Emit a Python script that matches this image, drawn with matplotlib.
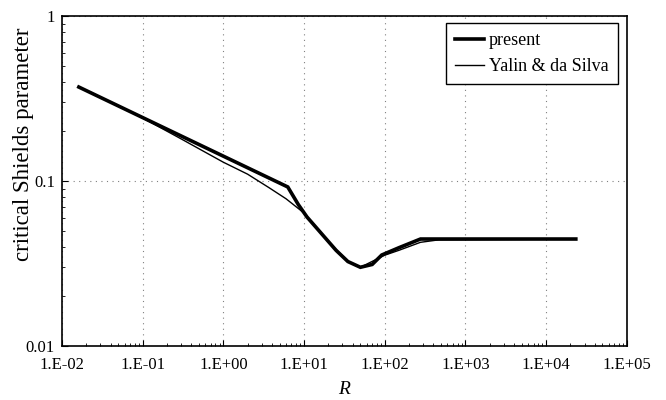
import matplotlib
matplotlib.use('Agg')
import matplotlib.pyplot as plt
from matplotlib.ticker import FixedLocator, FixedFormatter, LogLocator, NullFormatter

plt.rcParams['font.family'] = ['Liberation Serif', 'DejaVu Serif']

# present curve
R_present = [0.0162, 6.3, 8.5, 10.9, 15, 25, 35, 50, 70, 92, 150, 278, 2.34e4]
tau_present = [0.371, 0.092, 0.072, 0.0605, 0.0506, 0.038, 0.0325, 0.0300, 0.0312, 0.0356, 0.0394, 0.0445, 0.0445]

# Yalin & da Silva
R_yalin = [0.0162, 0.05, 0.1, 0.3, 1, 2.0, 3.7, 6, 10, 20, 35, 50, 100, 150, 278, 470, 2.34e4]
tau_yalin = [0.372, 0.285, 0.241, 0.180, 0.130, 0.110, 0.091, 0.078, 0.064, 0.043, 0.0325, 0.0300, 0.0355, 0.038, 0.0425, 0.044, 0.0445]

x_ticks = [1e-2, 1e-1, 1e0, 1e1, 1e2, 1e3, 1e4, 1e5]
x_labels = ['1.E-02', '1.E-01', '1.E+00', '1.E+01', '1.E+02', '1.E+03', '1.E+04', '1.E+05']
y_ticks = [0.01, 0.1, 1]
y_labels = ['0.01', '0.1', '1']

fig = plt.figure(figsize=(6.66, 4.0), dpi=100)
ax = fig.add_axes([0.093, 0.135, 0.848, 0.825])

ax.plot(R_present, tau_present, color='black', lw=2.6, label='present', solid_joinstyle='miter')
ax.plot(R_yalin, tau_yalin, color='black', lw=1.0, label='Yalin & da Silva')

ax.set_xscale('log')
ax.set_yscale('log')
ax.set_xlim(1e-2, 1e5)
ax.set_ylim(0.01, 1)

ax.xaxis.set_major_locator(FixedLocator(x_ticks))
ax.xaxis.set_major_formatter(FixedFormatter(x_labels))
ax.yaxis.set_major_locator(FixedLocator(y_ticks))
ax.yaxis.set_major_formatter(FixedFormatter(y_labels))
ax.xaxis.set_minor_locator(LogLocator(base=10, subs=range(2, 10)))
ax.yaxis.set_minor_locator(LogLocator(base=10, subs=range(2, 10)))
ax.xaxis.set_minor_formatter(NullFormatter())
ax.yaxis.set_minor_formatter(NullFormatter())

ax.tick_params(which='both', direction='in', labelsize=12, colors='black')
ax.tick_params(which='major', length=4)
ax.tick_params(which='minor', length=2)
ax.tick_params(axis='x', which='major', pad=8)
ax.tick_params(axis='y', which='major', pad=5)

ax.grid(which='major', color='gray', linestyle=(0, (1, 4)), lw=0.8)

for s in ax.spines.values():
    s.set_linewidth(1.2)

ax.set_xlabel('R', fontsize=14, style='italic', labelpad=6)
ax.set_ylabel('critical Shields parameter', fontsize=16.5)
ax.yaxis.set_label_coords(-0.05, 0.612)

leg = ax.legend(loc='upper right', bbox_to_anchor=(0.984, 0.979), fontsize=13,
                fancybox=False, edgecolor='black', framealpha=1, handlelength=1.6,
                handletextpad=0.3, borderpad=0.5, borderaxespad=0)
leg.get_frame().set_linewidth(1.0)

fig.savefig('out.png', dpi=100)
